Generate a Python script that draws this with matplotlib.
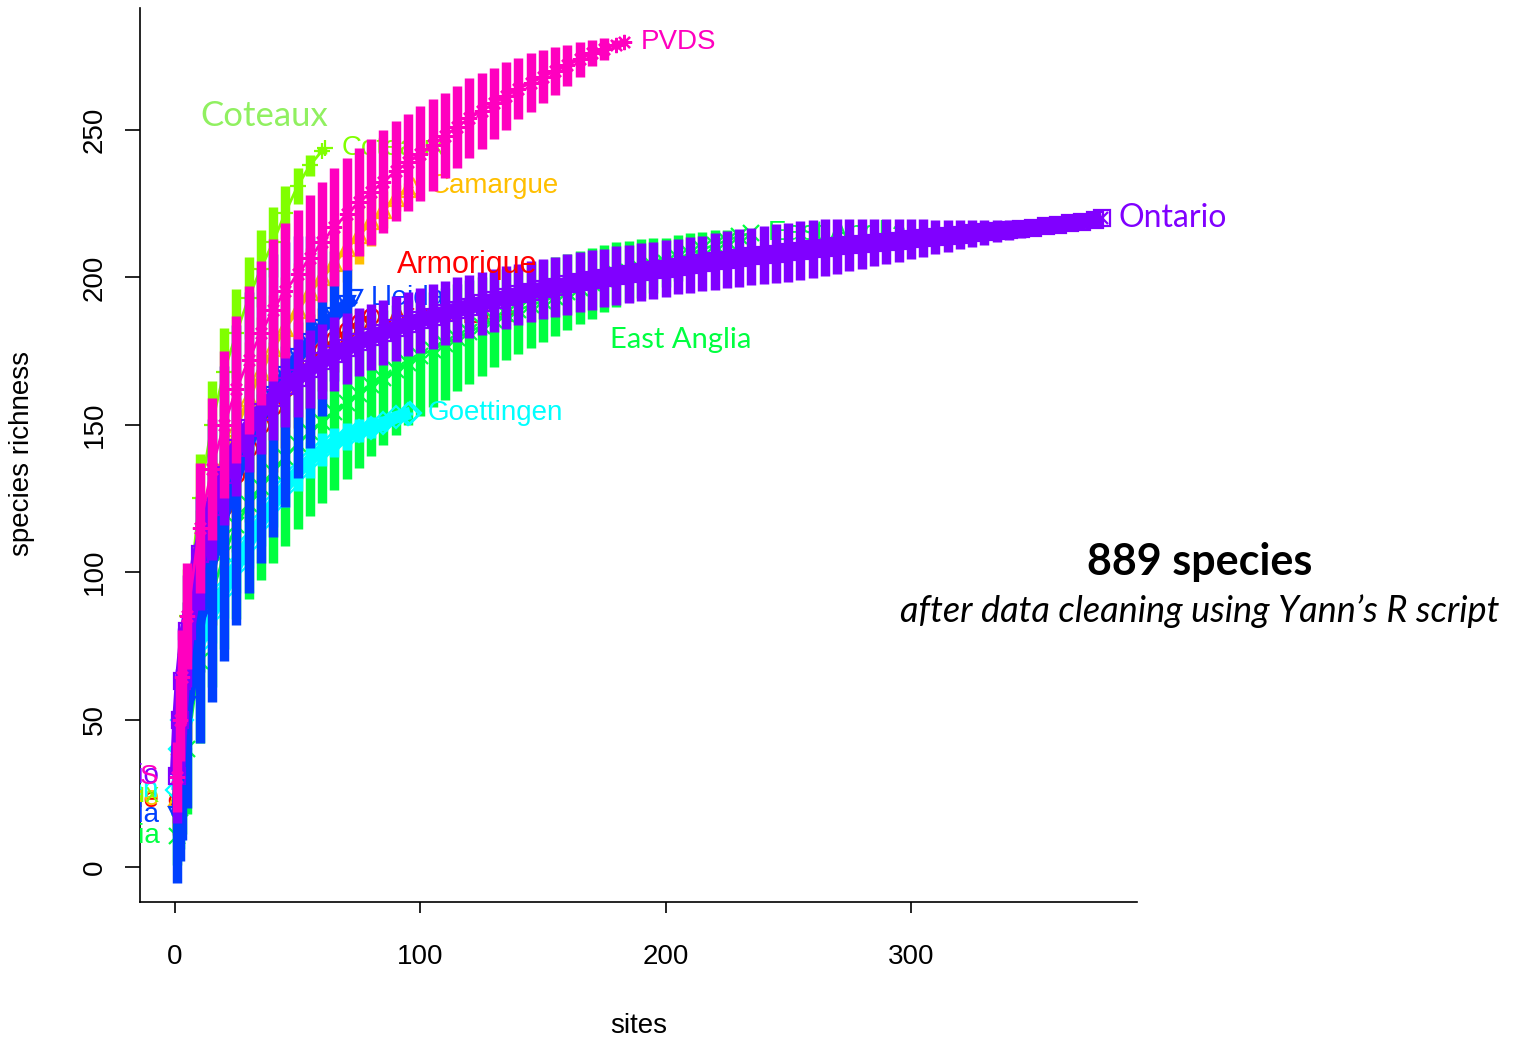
import numpy as np
import matplotlib
matplotlib.use("Agg")
import matplotlib.pyplot as plt

plt.rcParams['font.family'] = ['Liberation Sans', 'DejaVu Sans']

# species accumulation curves, read every 5th site (+ first three and last site)
names = ["Armorique", "Camargue", "Coteaux", "East Anglia", "Goettingen", "Lleida", "Ontario", "PVDS"]
n_sites = [80, 97, 61, 235, 96, 73, 378, 183]
colors = ["#FF0000", "#FFBF00", "#80FF00", "#00FF40", "#00FFFF", "#0040FF", "#8000FF", "#FF00BF"]

armorique_rich = [22.7, 37, 47, 63, 90, 108, 122, 133, 142, 150, 156, 162, 167, 171.5, 175.5, 179, 182, 185, 187]
armorique_sd = [6, 7.5, 8.5, 10, 12, 13, 13, 13, 12.5, 12, 11, 10, 9, 8, 7, 5.5, 4, 2.2, 0]

camargue_rich = [23.5, 41, 55, 75, 103, 122, 137, 149, 159, 168, 176, 183, 189, 195, 200, 205, 210, 214.5,
                 219, 223, 227, 230, 231]
camargue_sd = [5, 6, 6.5, 7.5, 9, 9.5, 9.8, 9.8, 9.5, 9.2, 9, 8.5, 8, 7.5, 7, 6.5, 5.8, 5, 4.2, 3.2, 2.2, 1, 0]

coteaux_rich = [24.5, 44, 58, 85, 125, 150, 168, 181, 193, 203, 212, 222, 231, 238, 243, 244]
coteaux_sd = [6, 7, 7.5, 8, 7.5, 7.5, 7.5, 7.5, 7, 6.5, 6, 4.5, 3, 1.8, 0.5, 0]

east_anglia_rich = [10.5, 20, 28, 40,
                    70, 92, 106, 116, 123, 129, 134, 139, 143.5, 147.5,
                    151, 154.5, 157.5, 160.5, 163.5, 166, 168.5, 171, 173.5, 175.5,
                    177.5, 179.5, 181.5, 183.5, 185.5, 187.5, 189, 190.5, 192, 193.5,
                    195, 196.5, 198, 199.5, 201, 202, 203, 204, 205, 206.5,
                    208, 209.5, 211, 212.5, 214,
                    215]
east_anglia_sd = [5, 7, 8.5, 11,
                  14, 15.5, 16, 16, 16, 15.8, 15.5, 15, 14.5, 14.2,
                  13.8, 13.4, 13, 12.5, 12, 11.5, 11, 10.6, 10.2, 9.8,
                  9.5, 9.1, 8.8, 8.4, 8, 7.7, 7.5, 7.2, 7, 6.7,
                  6.5, 6.2, 6, 5.7, 5.5, 5.2, 5, 4.6, 4.2, 3.9,
                  3.5, 3, 2.5, 1.8, 1,
                  0]

goettingen_rich = [26, 40, 50, 62, 76, 86, 94, 102, 110, 117, 123, 129, 134, 138, 141.5, 144, 146, 148,
                   149, 150.5, 152.5, 153.8, 154]
goettingen_sd = [4, 4.5, 5, 5, 5, 5, 4.8, 4.5, 4.3, 4, 3.8, 3.5, 3.3, 3, 2.8, 2.5, 2.3, 2, 1.8, 1.3, 0.8, 0.3, 0]

lleida_rich = [17.6, 30, 40, 55, 84, 104, 120, 133, 144, 153, 160, 167, 173, 178, 183, 187, 191, 193]
lleida_sd = [11.5, 14, 15.5, 17.5, 21, 24, 25, 25.5, 25.5, 25, 24, 22.5, 20.5, 18, 15, 11, 6, 0]

ontario_rich = [31, 50, 63, 80,
                106, 122, 133, 142, 149, 154.5, 159, 163, 166, 169,
                171.5, 174, 176, 178, 179.7, 181.3, 182.8, 184.2, 185.5, 186.7,
                187.9, 189, 190.1, 191.2, 192.2, 193.2, 194.2, 195.1, 196, 196.8,
                197.6, 198.4, 199.1, 199.8, 200.5, 201.1, 201.7, 202.4, 203, 203.6,
                204.2, 204.8, 205.4, 206, 206.6, 207.1, 207.6, 208.1, 208.6, 209.1,
                209.6, 210.1, 210.5, 210.9, 211.3, 211.7, 212.1, 212.5, 212.9, 213.3,
                213.7, 214.1, 214.5, 214.9, 215.3, 215.7, 216.1, 216.5, 216.9, 217.4,
                217.9, 218.4, 218.9, 219.5,
                220]
ontario_sd = [8, 8.5, 9, 9.5,
              9.5, 9, 8.5, 8, 7.5, 7.2, 7, 6.8, 6.7, 6.6,
              6.3, 6.2, 6, 5.8, 5.6, 5.5, 5.5, 5.5, 5.5, 5.5,
              5.5, 5.5, 5.4, 5.4, 5.3, 5.3, 5.2, 5.2, 5.1, 5.1,
              5.1, 5.1, 5.1, 5, 5, 4.9, 4.9, 4.8, 4.8, 4.7,
              4.7, 4.7, 4.8, 4.8, 4.9, 4.9, 5, 5, 5, 5,
              4.9, 4.8, 4.6, 4.4, 4.2, 4, 3.8, 3.6, 3.4, 3.2,
              2.9, 2.7, 2.5, 2.3, 2.1, 1.9, 1.7, 1.5, 1.3, 1.1,
              0.8, 0.6, 0.4, 0.2,
              0]

pvds_rich = [30.5, 50, 64.5, 85,
             115, 135, 150, 162, 172, 181, 189, 195.5, 201, 206.5,
             212, 217, 221.5, 225.5, 229, 232.5, 236, 239, 242, 245,
             248, 251, 254, 256.5, 259, 261.5, 264, 266, 268, 270,
             272, 274, 276, 277.5, 279,
             280]
pvds_sd = [6, 7, 8, 9,
           11, 12, 12.5, 12.5, 12.5, 12.2, 12, 11.5, 11, 10.8,
           10.2, 10, 9.5, 9.2, 9, 8.8, 8.5, 8.2, 8, 7.8,
           7.2, 7, 6.8, 6.5, 6, 5.8, 5.2, 5, 4.5, 4,
           3.5, 3, 2.2, 1.8, 0.8,
           0]

rich = [armorique_rich, camargue_rich, coteaux_rich, east_anglia_rich,
        goettingen_rich, lleida_rich, ontario_rich, pvds_rich]
sds = [armorique_sd, camargue_sd, coteaux_sd, east_anglia_sd,
       goettingen_sd, lleida_sd, ontario_sd, pvds_sd]

# R pch 1..8
markers = ['o', '^', '+', 'x', 'D', 'v', 's', (8, 2, 0)]
filled = [False, False, True, True, False, False, False, True]
band_lw = [3, 3, 2, 2, 9, 9, 11, 2]


def sampled_sites(n):
    return [1, 2, 3] + list(range(5, n, 5)) + [n]


fig = plt.figure(figsize=(15.21, 10.39), dpi=100)
ax = fig.add_axes([0.092, 0.1319, 0.6555, 0.8604])
ax.set_xlim(-14.3, 392.2)
ax.set_ylim(-11.9, 291.4)

for i, name in enumerate(names):
    x = sampled_sites(n_sites[i])
    r = np.array(rich[i])
    sd = np.array(sds[i])
    c = colors[i]
    z = 10 + i
    ax.vlines(x, r - 2 * sd, r + 2 * sd, color=c, lw=6.8, zorder=z)
    ax.plot(x, r, color=c, lw=band_lw[i], solid_capstyle='butt', zorder=z)
    if filled[i]:
        ax.plot(x, r, ls='none', marker=markers[i], ms=11, mew=1.6, color=c, zorder=z)
    else:
        ax.plot(x, r, ls='none', marker=markers[i], ms=11, mew=1.6, mec=c, mfc='none', zorder=z)
    if name == "Ontario":
        ax.plot(x[-1], r[-1], marker='x', ms=9, mew=1.6, color=c, zorder=z)
    else:
        ax.annotate(name, (x[-1], r[-1]), xytext=(12, 0), textcoords='offset points',
                    color=c, fontsize=20, va='center', ha='left', zorder=z)
    # labels at the first site, cut by the plot region
    ax.annotate(name, (x[0], r[0]), xytext=(-13, 0), textcoords='offset points',
                color=c, fontsize=20, va='center', ha='right', zorder=z, clip_on=True)

ax.set_xticks([0, 100, 200, 300])
ax.set_yticks([0, 50, 100, 150, 200, 250])
ax.tick_params(axis='x', length=8, width=1.2, pad=22, labelsize=20)
ax.tick_params(axis='y', length=11, width=1.2, pad=12, labelsize=20)
for lab in ax.get_yticklabels():
    lab.set_rotation(90)
    lab.set_va('center')
for s in ['top', 'right']:
    ax.spines[s].set_visible(False)
for s in ['left', 'bottom']:
    ax.spines[s].set_linewidth(1.2)

fig.text(638.5 / 1521, 1 - 1026 / 1039, "sites", fontsize=20, ha='center', va='center')
fig.text(22 / 1521, 1 - 453 / 1039, "species richness", fontsize=20, rotation=90, ha='center', va='center')

# labels added on top of the R output
fig.text(200 / 1521, 1 - 116 / 1039, "Coteaux", color="#90F060", fontsize=25, family="Lato", va='center')
fig.text(397 / 1521, 1 - 265 / 1039, "Armorique", color="#FF0000", fontsize=22, va='center')
fig.text(610 / 1521, 1 - 340 / 1039, "East Anglia", color="#00FF40", fontsize=21, family="Lato", va='center')
fig.text(1118 / 1521, 1 - 218 / 1039, "Ontario", color="#8000FF", fontsize=23, family="Lato", va='center')
fig.text(1199.5 / 1521, 1 - 562 / 1039, "889 species", fontsize=31, weight='bold', family="Lato",
         ha='center', va='center')
fig.text(1199.5 / 1521, 1 - 611 / 1039, "after data cleaning using Yann\u2019s R script", fontsize=26,
         style='italic', family="Lato", ha='center', va='center')

fig.savefig("out.png", dpi=100)
